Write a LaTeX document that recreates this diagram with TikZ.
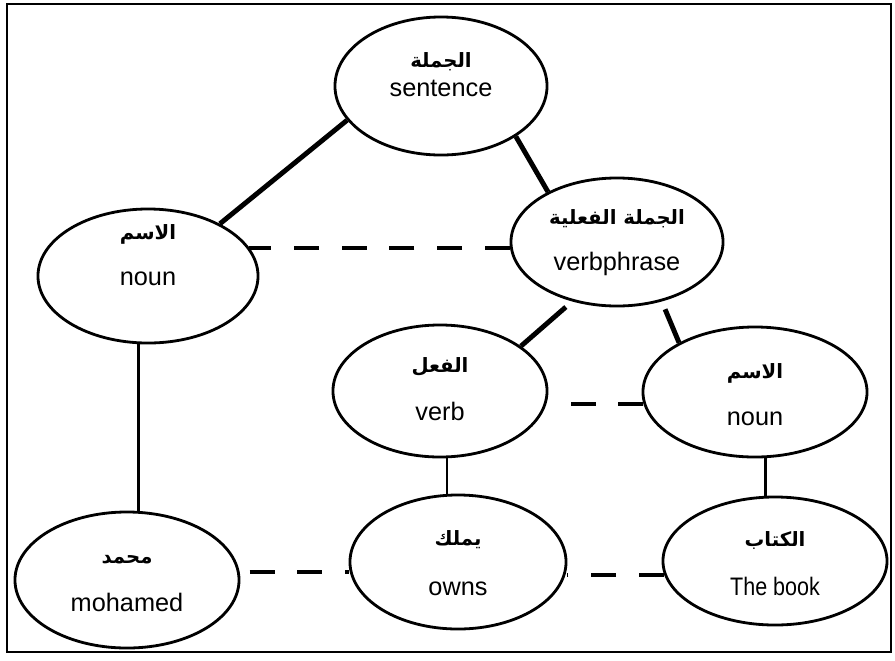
\documentclass[tikz,border=0pt]{standalone}
\usepackage{graphicx}
\usepackage{fontspec}
\setmainfont{Liberation Sans}
\newfontfamily\arabicfont[Script=Arabic]{DejaVu Sans}
\TeXXeTstate=1
\usetikzlibrary{shapes.geometric}

% arabic word over english word, raised by #1, line gap #2
\newcommand{\bitext}[4]{\raisebox{#1}[0pt][0pt]{\begin{tabular}{@{}c@{}}%
  {\arabicfont\bfseries\fontsize{14}{22}\selectfont #3}\\[#2]#4\end{tabular}}}

\begin{document}
\begin{tikzpicture}[x=0.025cm, y=-0.025cm,
    phrase/.style={ellipse, draw, line width=2pt, inner sep=0pt,
      minimum width=5.4cm, minimum height=3.3cm, font=\fontsize{18}{22}\selectfont},
    branch/.style={line width=3.5pt},
    leaf/.style={line width=2pt},
    same/.style={line width=3pt, dash pattern=on 17.7pt off 16.3pt}
  ]
    \useasboundingbox (0,0) rectangle (895,660);
    \draw[line width=2pt] (7,4) rectangle (891,652);

    \node[phrase, minimum width=5.3cm, minimum height=3.45cm] (snt) at (441,86) {\bitext{3pt}{-1pt}{\beginR الجملة\endR}{sentence}};
    \node[phrase, minimum width=5.3cm, minimum height=3.2cm]  (vp)  at (617,242) {\bitext{-4pt}{11pt}{\beginR الجملة الفعلية\endR}{verbphrase}};
    \node[phrase, minimum width=5.5cm, minimum height=3.35cm] (nl)  at (148,276) {\bitext{9.5pt}{11pt}{\beginR الاسم\endR}{noun}};
    \node[phrase, minimum width=5.35cm]                       (vb)  at (440,391) {\bitext{-4pt}{12pt}{\beginR الفعل\endR}{verb}};
    \node[phrase, minimum width=5.6cm, minimum height=3.25cm] (nr)  at (755,392) {\bitext{-7pt}{11pt}{\beginR الاسم\endR}{noun}};
    \node[phrase, minimum width=5.6cm, minimum height=3.4cm]  (moh) at (127,580) {\bitext{-5pt}{12pt}{\beginR محمد\endR}{mohamed}};
    \node[phrase, minimum height=3.35cm]                      (own) at (458,562) {\bitext{-6pt}{13pt}{\beginR يملك\endR}{owns}};
    \node[phrase, minimum width=5.6cm, minimum height=3.2cm]  (bk)  at (775,561) {\bitext{-7pt}{13pt}{\beginR الكتاب\endR}{\scalebox{0.85}[1]{The book}}};

    % tree branches
    \draw[branch] (snt.200) -- (nl.36);
    \draw[branch] (snt.326) -- (vp.144);
    \draw[branch, shorten <=6pt] (vp.233) -- (vb.29);
    \draw[branch, shorten <=6pt] (vp.307) -- (nr.147);

    % words under their categories
    \draw[leaf] (nl.262) -- (nl.262 |- moh.north);
    \draw[leaf] (vb.276) -- (vb.276 |- own.north);
    \draw[leaf] (nr.279) -- (nr.279 |- bk.north);

    % same level
    \draw[same] (vp.183) -- (vp.183 -| nl.16);
    \draw[same] (nr.186) -- (nr.186 -| vb.east);
    \draw[same, dash phase=26.9pt] (moh.4) -- (moh.4 -| own.west);
    \draw[same] (bk.187) -- (bk.187 -| own.east);
  \end{tikzpicture}
\end{document}
